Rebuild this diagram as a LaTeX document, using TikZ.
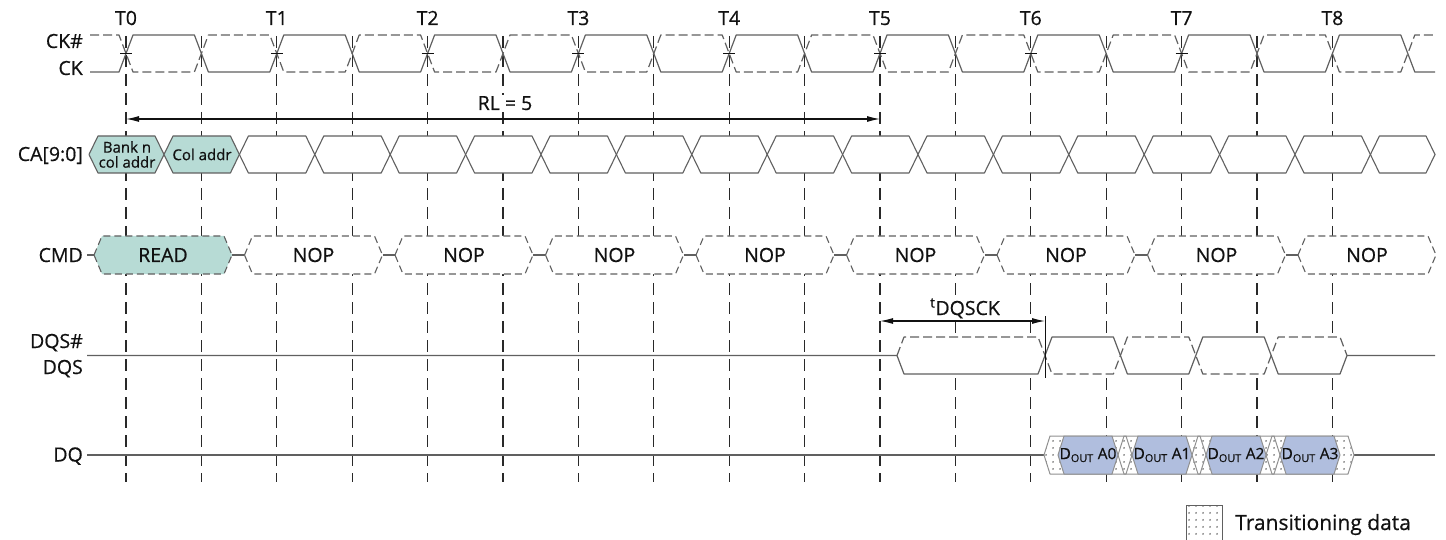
\documentclass[tikz,border=0pt]{standalone}
\usepackage{fontspec}
\setmainfont{Open Sans}[FakeBold=0.6]
\usetikzlibrary{arrows.meta,patterns.meta}
\definecolor{wv}{HTML}{606060}
\definecolor{ink}{HTML}{111111}
\definecolor{tealfill}{RGB}{183,219,213}
\definecolor{bluefill}{RGB}{176,190,222}
\tikzset{
  wave/.style={draw=wv, line width=1.2pt, line join=round},
  wavedash/.style={draw=wv, line width=1.2pt, dash pattern=on 9pt off 4pt, line join=round},
  vline/.style={draw=ink!90, line width=1.1pt, dash pattern=on 12pt off 7pt},
  lbl/.style={font=\fontsize{19.5}{21}\selectfont, text=ink, inner sep=0pt},
  sig/.style={lbl, anchor=base east},
  cahex/.style={draw=wv, line width=1.1pt, fill=white, line join=round},
  cmdhex/.style={draw=wv, line width=1.1pt, dash pattern=on 7pt off 4pt, fill=white, line join=round},
  trans/.style={preaction={fill=white}, pattern={Dots[distance=6.5pt,radius=1pt]}, pattern color=black!55},
  datahex/.style={draw=wv!70, line width=1pt, fill=bluefill, line join=round},
  dim/.style={draw=ink, line width=1.1pt, {Latex[length=13pt,width=6pt]}-{Latex[length=13pt,width=6pt]}},
  small/.style={font=\fontsize{15}{15}\selectfont, text=ink, inner sep=0pt, align=center},
}
\begin{document}
\begin{tikzpicture}[x=1pt,y=-1pt]
\useasboundingbox (0,0) rectangle (1446,540);

% vertical dashed reference lines
\foreach \k in {0,...,16} \draw[vline] ({126+75.4*\k},36) -- ({126+75.4*\k},482);

% clock labels
\foreach \k in {0,...,8} \node[lbl, anchor=base] (T\k) at ({126+150.8*\k},25) {T\k};
\node[sig] (ckn) at (83,48) {CK\#};
\node[sig] (ck) at (83,75) {CK};

% CK (solid) and CK# (dashed)
\draw[wave] (90,72) \foreach \k in {0,...,8}{ -- ({119+150.8*\k},72) -- ({133+150.8*\k},35) -- ({194.4+150.8*\k},35) -- ({208.4+150.8*\k},72) } -- (1435,72);
\draw[wavedash] (90,35) \foreach \k in {0,...,8}{ -- ({119+150.8*\k},35) -- ({133+150.8*\k},72) -- ({194.4+150.8*\k},72) -- ({208.4+150.8*\k},35) } -- (1435,35);
\foreach \k in {0,...,7} \draw[draw=ink, line width=1.1pt] ({120+150.8*\k},53.5) -- ({132+150.8*\k},53.5);

% RL = 5
\coordinate (rlA) at (126,119);
\coordinate (rlB) at (880,119);
\draw[dim] (rlA) -- (rlB);
\node[lbl, anchor=base, fill=white, inner sep=1.5pt] (rl) at (505,110) {RL = 5};

% CA[9:0]
\node[sig] (ca) at (83,161) {CA[9:0]};
\draw[cahex, fill=tealfill] (89,154.5) -- (98,136) -- (155,136) -- (164,154.5) -- (155,173) -- (98,173) -- cycle;
\draw[cahex, fill=tealfill] (164,154.5) -- (173,136) -- (230.4,136) -- (239.4,154.5) -- (230.4,173) -- (173,173) -- cycle;
\foreach \j in {2,...,16} \draw[cahex] ({88.6+75.4*\j},154.5) -- ({97.6+75.4*\j},136) -- ({155+75.4*\j},136) -- ({164+75.4*\j},154.5) -- ({155+75.4*\j},173) -- ({97.6+75.4*\j},173) -- cycle;
\draw[cahex] (1370.4,154.5) -- (1379.4,136) -- (1426,136) -- (1435,154.5) -- (1426,173) -- (1379.4,173) -- cycle;
\node[small] (bank) at (127,154.5) {Bank n\\col addr};
\node[small] (col) at (202,154.5) {Col addr};

% CMD
\node[sig] (cmd) at (83,262) {CMD};
\draw[wave] (87,255) -- (94,255);
\foreach \k in {0,...,7} \draw[wave] ({163+150.5*\k+69},255) -- ({163+150.5*\k+81.5},255);
\draw[cmdhex, fill=tealfill] (94,255) -- (102,236) -- (224,236) -- (232,255) -- (224,274) -- (102,274) -- cycle;
\node[lbl] (read) at (163,255) {READ};
\foreach \k in {1,...,8} {
  \draw[cmdhex] ({163+150.5*\k-69},255) -- ({163+150.5*\k-61},236) -- ({163+150.5*\k+61},236) -- ({163+150.5*\k+69},255) -- ({163+150.5*\k+61},274) -- ({163+150.5*\k-61},274) -- cycle;
  \node[lbl] (nop\k) at ({163+150.5*\k},255) {NOP};
}

% DQS
\node[sig] (dqsn) at (83,348) {DQS\#};
\node[sig] (dqs) at (83,374) {DQS};
\fill[white] (897,355.5) -- (904,337) -- (1340,337) -- (1347,355.5) -- (1340,374) -- (904,374) -- cycle;
\draw[wave] (87,355.5) -- (897,355.5) -- (904,374) -- (1038,374) -- (1052,337) -- (1113.4,337) -- (1127.4,374) -- (1188.8,374) -- (1202.8,337) -- (1264.2,337) -- (1278.2,374) -- (1340,374) -- (1347,355.5) -- (1435,355.5);
\draw[wavedash] (897,355.5) -- (904,337) -- (1038,337) -- (1052,374) -- (1113.4,374) -- (1127.4,337) -- (1188.8,337) -- (1202.8,374) -- (1264.2,374) -- (1278.2,337) -- (1340,337) -- (1347,355.5);

% tDQSCK
\node[lbl, anchor=base, fill=white, inner sep=1.5pt] (tdqsck) at (965,315) {\textsuperscript{t}DQSCK};
\coordinate (dqA) at (880,321);
\coordinate (dqB) at (1045,321);
\draw[dim] (dqA) -- (dqB);
\draw[draw=ink, line width=1pt] (1045,316) -- (1045,378);

% DQ
\node[sig] (dq) at (83,461.5) {DQ};
\draw[wave] (87,455) -- (1044,455);
\draw[wave] (1354,455) -- (1435,455);
\foreach \i in {0,...,3} \fill[trans] ({1044+74*\i},455) -- ({1050+74*\i},436) -- ({1126+74*\i},436) -- ({1132+74*\i},455) -- ({1126+74*\i},474) -- ({1050+74*\i},474) -- cycle;
\foreach \i in {0,...,3} \draw[draw=wv!70, line width=1pt, line join=round] ({1044+74*\i},455) -- ({1050+74*\i},436) -- ({1126+74*\i},436) -- ({1132+74*\i},455) -- ({1126+74*\i},474) -- ({1050+74*\i},474) -- cycle;
\foreach \i in {0,...,3} {
  \draw[datahex] ({1058+74*\i},455) -- ({1064+74*\i},436) -- ({1112+74*\i},436) -- ({1118+74*\i},455) -- ({1112+74*\i},474) -- ({1064+74*\i},474) -- cycle;
  \node[font=\fontsize{15.5}{16}\selectfont, text=ink, inner sep=0pt] (dout\i) at ({1088+74*\i},455) {D\textsubscript{OUT} A\i};
}

% legend
\draw[draw=wv, line width=1pt, trans] (1186,505) rectangle (1222,540);
\node[font=\fontsize{21}{24}\selectfont, text=ink, inner sep=0pt, anchor=base west] (legend) at (1235,530) {Transitioning data};
\end{tikzpicture}
\end{document}
